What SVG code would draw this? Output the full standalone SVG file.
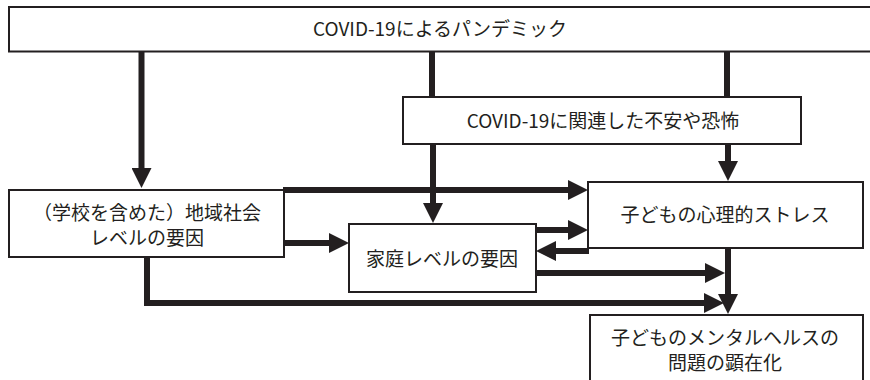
<svg xmlns="http://www.w3.org/2000/svg" width="870" height="380" viewBox="0 0 870 380">
<style>
.box{fill:#fff;stroke:#231f20;stroke-width:2}
.t{font-family:"Noto Sans CJK JP","Noto Sans",sans-serif;font-size:19px;fill:#231f20;text-anchor:middle}
.c{fill:none;stroke:#231f20;stroke-width:6}
</style>
<defs>
<marker id="ah" markerUnits="userSpaceOnUse" markerWidth="20" markerHeight="20" refX="10" refY="10" orient="auto">
<path d="M0,0 L20,10 L0,20 z" fill="#231f20"/>
</marker>
</defs>
<rect width="870" height="380" fill="#fff"/>
<g id="connectors">
<line class="c" x1="141.5" y1="51" x2="141.5" y2="178" marker-end="url(#ah)"/>
<line class="c" x1="432" y1="51" x2="432" y2="97"/>
<line class="c" x1="727" y1="51" x2="727" y2="97"/>
<line class="c" x1="433" y1="144" x2="433" y2="213" marker-end="url(#ah)"/>
<line class="c" x1="728" y1="144" x2="728" y2="171" marker-end="url(#ah)"/>
<line class="c" x1="283" y1="190" x2="578" y2="190" marker-end="url(#ah)"/>
<line class="c" x1="284" y1="243" x2="339" y2="243" marker-end="url(#ah)"/>
<line class="c" x1="536" y1="230" x2="578" y2="230" marker-end="url(#ah)"/>
<line class="c" x1="589" y1="251" x2="546" y2="251" marker-end="url(#ah)"/>
<line class="c" x1="536" y1="273" x2="715" y2="273" marker-end="url(#ah)"/>
<path class="c" d="M147,257 V303 H714" marker-end="url(#ah)"/>
<line class="c" x1="728" y1="248" x2="728" y2="304" marker-end="url(#ah)"/>
</g>
<g id="pandemic">
<rect class="box" x="9" y="7" width="866" height="44.5"/>
<text class="t" x="440" y="36">COVID-19によるパンデミック</text>
</g>
<g id="anxiety">
<rect class="box" x="403" y="97" width="398" height="47"/>
<text class="t" x="603" y="128">COVID-19に関連した不安や恐怖</text>
</g>
<g id="community">
<rect class="box" x="9" y="190" width="275" height="67"/>
<text class="t" x="147" y="220">（学校を含めた）地域社会</text>
<text class="t" x="147" y="245">レベルの要因</text>
</g>
<g id="family">
<rect class="box" x="349" y="224" width="187" height="68"/>
<text class="t" x="442" y="266">家庭レベルの要因</text>
</g>
<g id="stress">
<rect class="box" x="588" y="182" width="275" height="66"/>
<text class="t" x="725" y="222">子どもの心理的ストレス</text>
</g>
<g id="mental">
<rect class="box" x="590" y="315" width="273" height="70"/>
<text class="t" x="725" y="345">子どものメンタルヘルスの</text>
<text class="t" x="725" y="370">問題の顕在化</text>
</g>
</svg>
